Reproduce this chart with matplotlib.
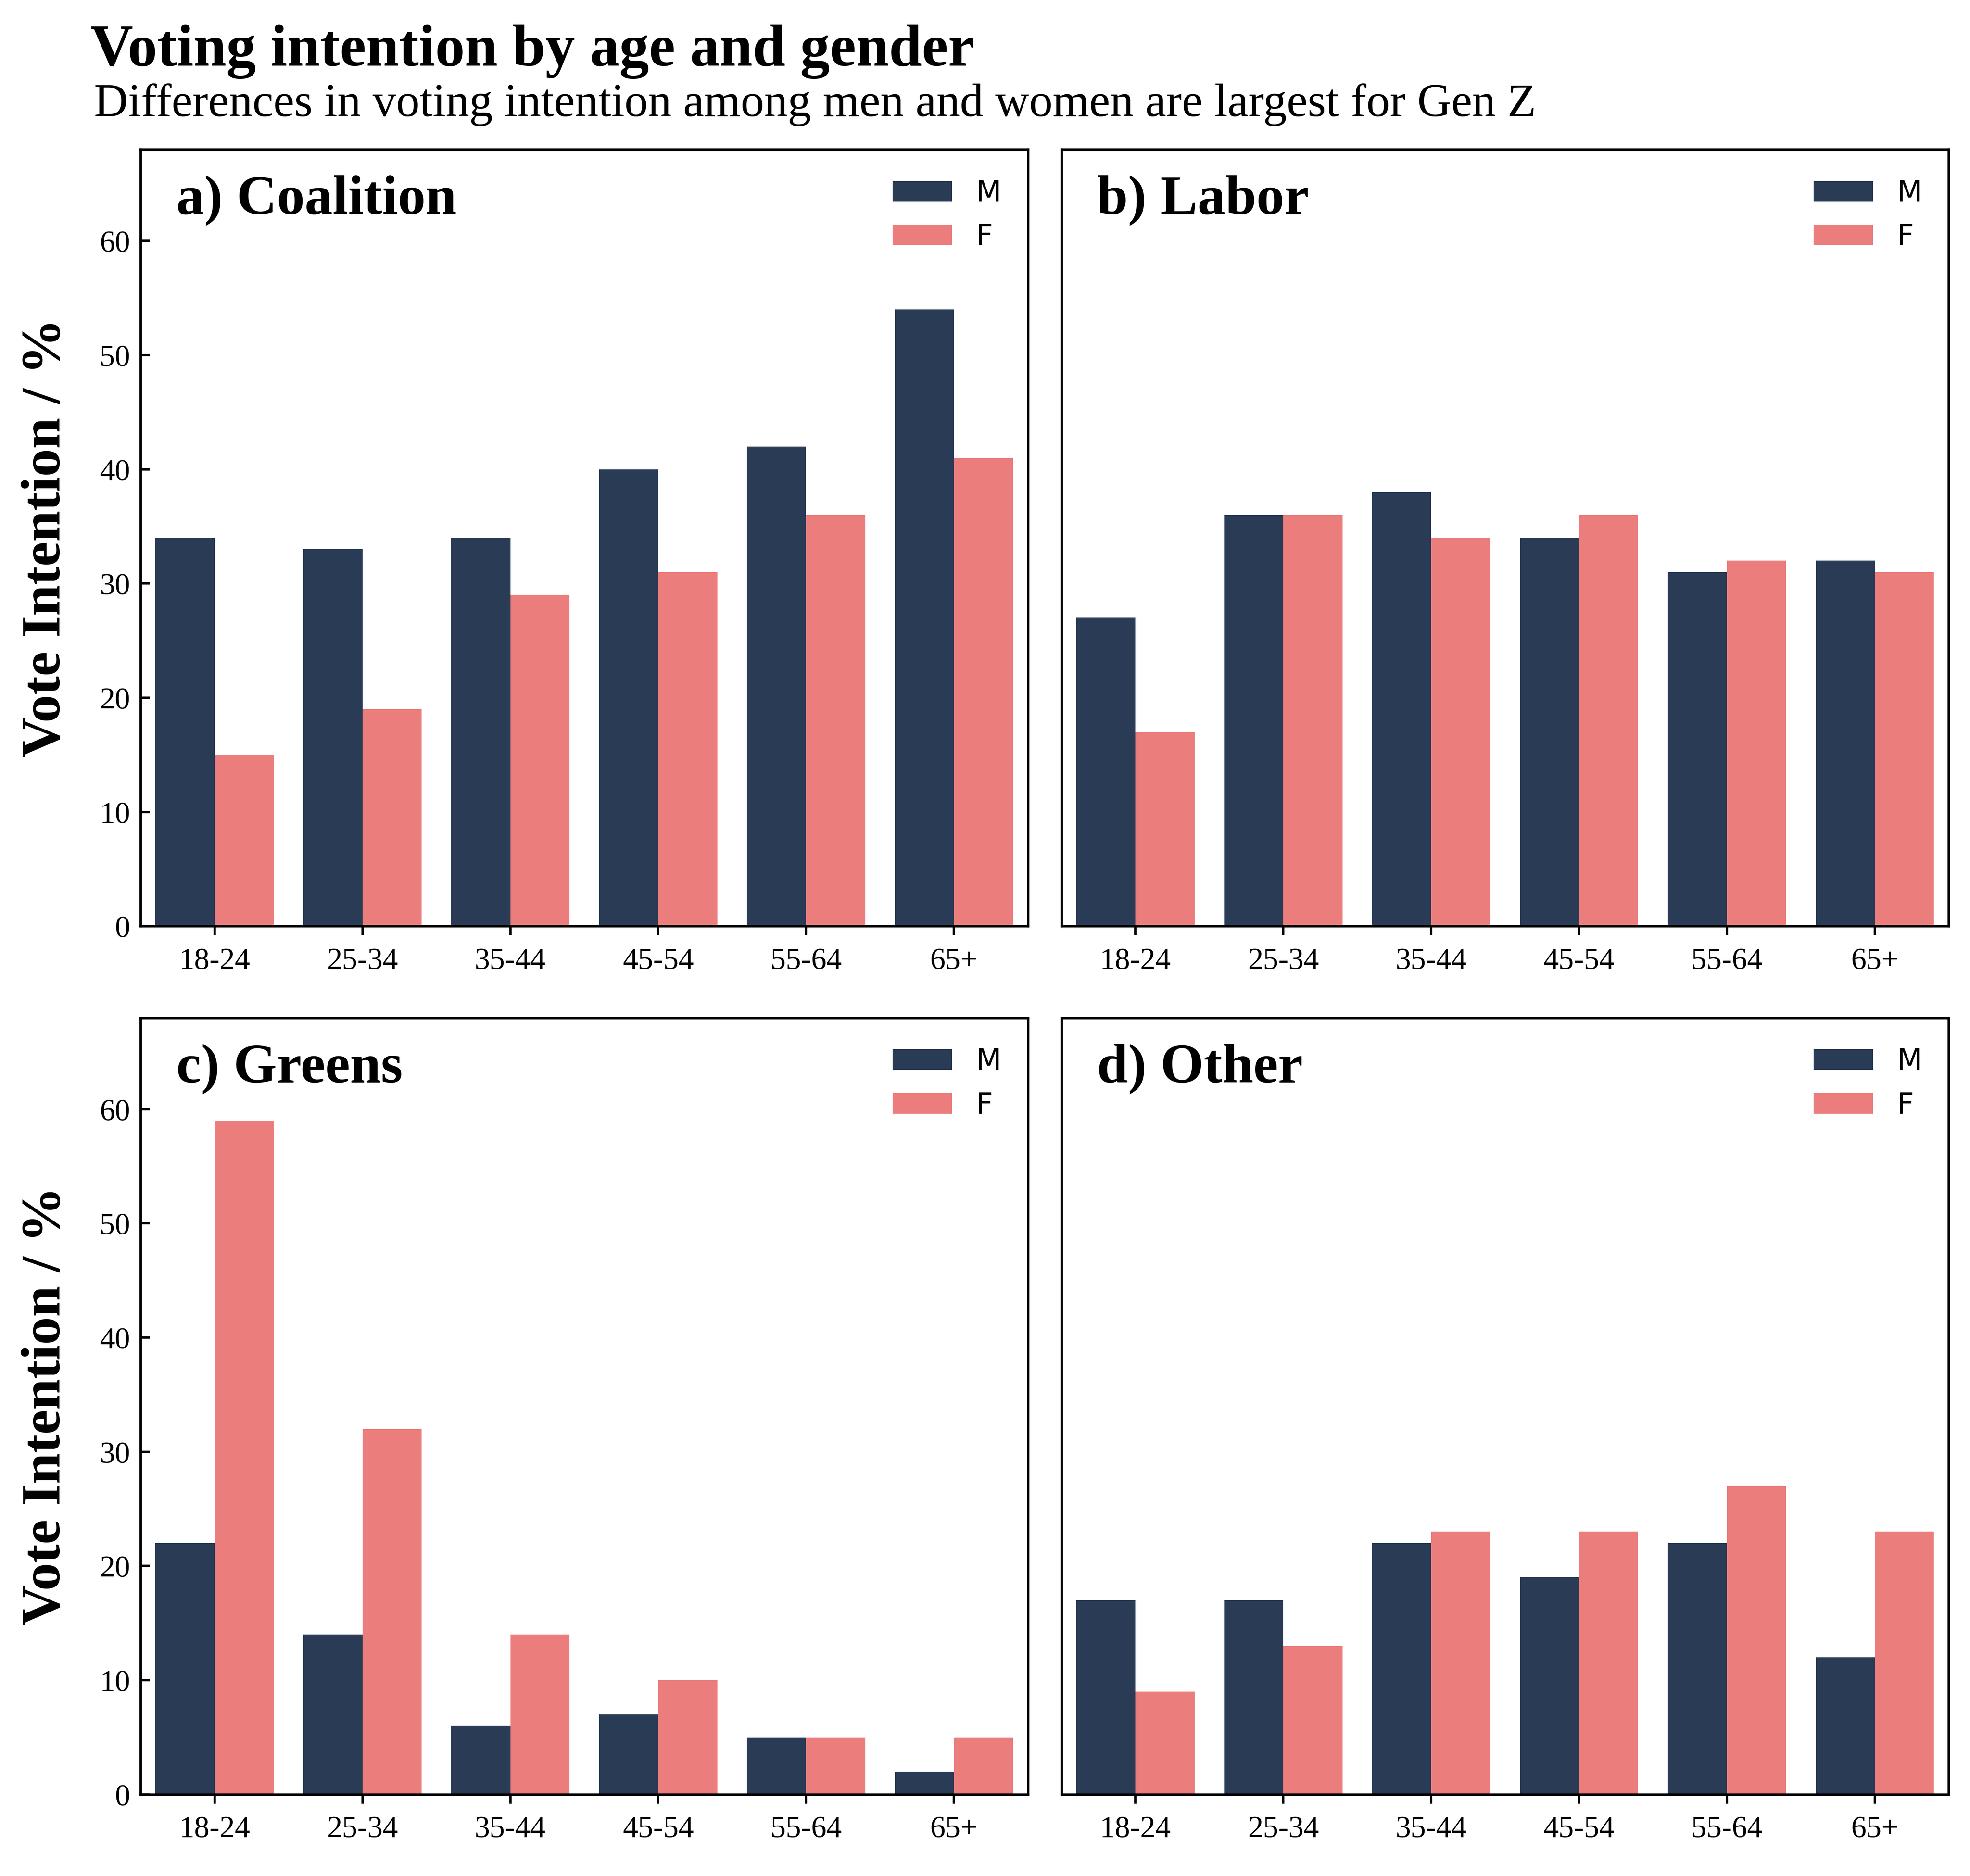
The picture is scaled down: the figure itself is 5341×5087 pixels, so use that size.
import numpy as np
import matplotlib
matplotlib.use("Agg")
import matplotlib.pyplot as plt

# data
ages = ['18-24', '25-34', '35-44', '45-54', '55-64', '65+']
parties = ['a) Coalition', 'b) Labor', 'c) Greens', 'd) Other']
male = [
    [34, 33, 34, 40, 42, 54],   # Coalition
    [27, 36, 38, 34, 31, 32],   # Labor
    [22, 14, 6, 7, 5, 2],       # Greens
    [17, 17, 22, 19, 22, 12],   # Other
]
female = [
    [15, 19, 29, 31, 36, 41],
    [17, 36, 34, 36, 32, 31],
    [59, 32, 14, 10, 5, 5],
    [9, 13, 23, 23, 27, 23],
]
genders = ['M', 'F']
yticks = [0, 10, 20, 30, 40, 50, 60]

col_m = '#2a3c55'
col_f = '#eb7d7d'
serif = ['Liberation Serif', 'DejaVu Serif']

plt.rcParams['font.family'] = serif
plt.rcParams['axes.linewidth'] = 1.4

fig, axes = plt.subplots(2, 2, figsize=(5341 / 340, 5087 / 340), dpi=340)
fig.subplots_adjust(left=0.0714, right=0.9892, top=0.9203, bottom=0.0435,
                    wspace=0.038, hspace=0.118)

x = np.arange(len(ages))
w = 0.4
for i, ax in enumerate(axes.flat):
    ax.bar(x - w / 2, male[i], w, color=col_m, label=genders[0])
    ax.bar(x + w / 2, female[i], w, color=col_f, label=genders[1])
    ax.set_xlim(-0.5, 5.5)
    ax.set_ylim(0, 68)
    ax.set_xticks(x)
    ax.set_xticklabels(ages)
    ax.tick_params(axis='x', direction='out', length=5.3, width=1.35,
                   pad=7, labelsize=17.5)
    ax.text(0.04, 0.917, parties[i], transform=ax.transAxes,
            fontsize=32, fontweight='bold', va='baseline', ha='left')
    ax.legend(loc='upper right', bbox_to_anchor=(1, 0.996), frameon=False,
              prop={'family': 'DejaVu Sans', 'size': 17})
    if i % 2 == 0:
        ax.set_yticks(yticks)
        ax.tick_params(axis='y', direction='in', length=5.3, width=1.35,
                       pad=6, labelsize=17.5)
        ax.set_ylabel('Vote Intention / %', fontsize=32, fontweight='bold')
        ax.yaxis.set_label_coords(-0.078, 0.5)
    else:
        ax.set_yticks([])

fig.text(0.0459, 0.965, 'Voting intention by age and gender',
         fontsize=34, fontweight='bold', va='baseline', ha='left')
fig.text(0.0478, 0.938,
         'Differences in voting intention among men and women are largest for Gen Z',
         fontsize=27, va='baseline', ha='left')

fig.savefig('out.png', dpi=340)
